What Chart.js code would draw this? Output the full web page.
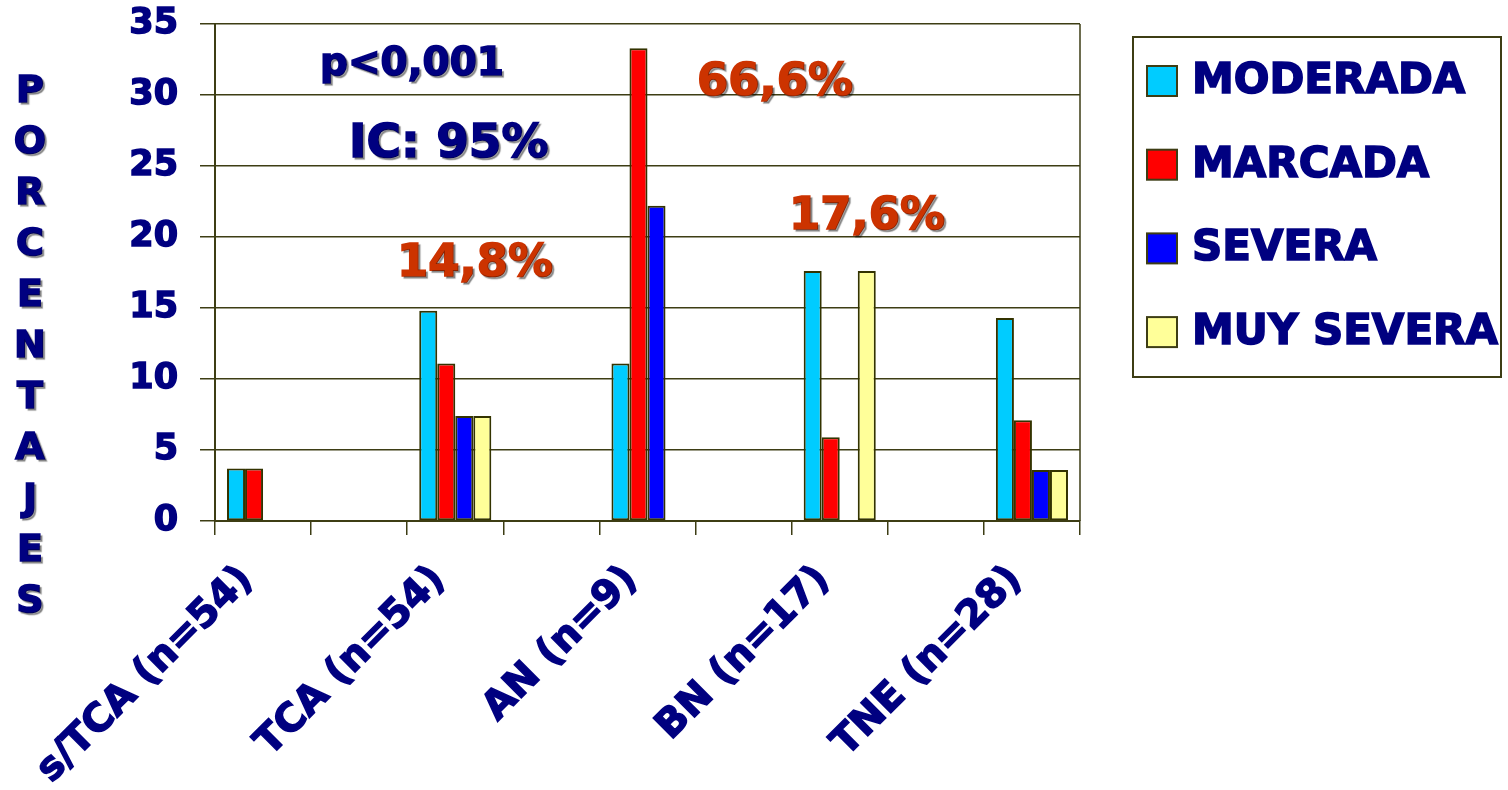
<!DOCTYPE html>
<html>
<head>
<meta charset="utf-8">
<script src="https://cdn.jsdelivr.net/npm/chart.js@4.4.0/dist/chart.umd.min.js"></script>
<style>
html, body { margin: 0; padding: 0; background: #fff; }
#wrap { width: 1508px; height: 790px; }
</style>
</head>
<body>
<div id="wrap"><canvas id="bar-chart"></canvas></div>
<script>
// blank slots between groups, like the original sheet
const categories = ['s/TCA (n=54)', '', 'TCA (n=54)', '', 'AN (n=9)', '', 'BN (n=17)', '', 'TNE (n=28)'];
const moderada  = [3.7, null, 14.8, null, 11.1, null, 17.6, null, 14.3];
const marcada   = [3.7, null, 11.1, null, 33.3, null, 5.9, null, 7.1];
const severa    = [0, null, 7.4, null, 22.2, null, 0, null, 3.6];
const muySevera = [0, null, 7.4, null, 0, null, 17.6, null, 3.6];
const axisTitle = 'PORCENTAJES';

const NAVY = '#000080';
const LINE = '#3d3d14';
const FONT = '"DejaVu Sans", Verdana, sans-serif';

const notes = [
    { text: 'p<0,001', x: 320, y: 75, size: 39, color: NAVY },
    { text: 'IC: 95%', x: 349, y: 157, size: 47, color: NAVY },
    { text: '14,8%', x: 397, y: 276, size: 45, color: '#CC3300' },
    { text: '66,6%', x: 697, y: 95, size: 45, color: '#CC3300' },
    { text: '17,6%', x: 789, y: 229, size: 45, color: '#CC3300' }
];

function shadow(ctx) {
    ctx.shadowColor = 'rgba(0,0,0,0.35)';
    ctx.shadowOffsetX = 2;
    ctx.shadowOffsetY = 2;
    ctx.shadowBlur = 1;
}

// fill plus a thin stroke, to get the heavy look of the original font
function boldText(ctx, txt, x, y, w) {
    ctx.lineWidth = w;
    ctx.strokeStyle = ctx.fillStyle;
    ctx.strokeText(txt, x, y);
    ctx.fillText(txt, x, y);
}

const extras = {
    id: 'extras',
    afterDraw(chart) {
        const ctx = chart.ctx;
        const a = chart.chartArea;
        ctx.save();
        // right border of the plot frame
        ctx.strokeStyle = LINE;
        ctx.lineWidth = 1.5;
        ctx.beginPath();
        ctx.moveTo(a.right, a.top);
        ctx.lineTo(a.right, a.bottom);
        ctx.stroke();

        // vertical axis title, one letter per line
        shadow(ctx);
        ctx.fillStyle = NAVY;
        ctx.font = 'bold 38px ' + FONT;
        ctx.textAlign = 'center';
        ctx.textBaseline = 'middle';
        axisTitle.split('').forEach((ch, i) => {
            boldText(ctx, ch, 30, 92 + i * 51, 1.6);
        });

        // text notes
        ctx.textAlign = 'left';
        ctx.textBaseline = 'alphabetic';
        notes.forEach(n => {
            ctx.fillStyle = n.color;
            ctx.font = 'bold ' + n.size + 'px ' + FONT;
            boldText(ctx, n.text, n.x, n.y, 1.6);
        });

        // legend box
        ctx.shadowColor = 'transparent';
        ctx.strokeStyle = LINE;
        ctx.lineWidth = 2;
        ctx.strokeRect(1133, 37, 368, 340);
        ctx.font = 'bold 42px ' + FONT;
        ctx.textBaseline = 'middle';
        chart.data.datasets.forEach((ds, i) => {
            const cy = 81 + i * 83.7;
            ctx.fillStyle = ds.backgroundColor;
            ctx.fillRect(1147, cy - 15, 30, 30);
            ctx.strokeStyle = LINE;
            ctx.lineWidth = 2;
            ctx.strokeRect(1147, cy - 15, 30, 30);
            ctx.fillStyle = NAVY;
            boldText(ctx, ds.label, 1192, cy + 1, 1.6);
        });
        ctx.restore();
    }
};

function series(label, data, color) {
    return {
        label: label,
        data: data,
        backgroundColor: color,
        borderColor: '#333300',
        borderWidth: 2,
        borderSkipped: false
    };
}

new Chart(document.getElementById('bar-chart'), {
    type: 'bar',
    data: {
        labels: categories,
        datasets: [
            series('MODERADA', moderada, '#00CCFF'),
            series('MARCADA', marcada, '#FF0000'),
            series('SEVERA', severa, '#0000FF'),
            series('MUY SEVERA', muySevera, '#FFFF99')
        ]
    },
    options: {
        responsive: true,
        maintainAspectRatio: false,
        animation: false,
        devicePixelRatio: 1,
        layout: { padding: { top: 24, right: 428, left: 0, bottom: 0 } },
        datasets: { bar: { categoryPercentage: 0.75, barPercentage: 1 } },
        plugins: {
            legend: { display: false },
            title: { display: false },
            tooltip: { enabled: false }
        },
        scales: {
            x: {
                grid: { drawOnChartArea: false, color: LINE, lineWidth: 1.5, tickLength: 14 },
                border: { color: LINE, width: 2 },
                ticks: {
                    autoSkip: false,
                    minRotation: 45,
                    maxRotation: 45,
                    padding: 22,
                    labelOffset: -16,
                    color: NAVY,
                    textStrokeColor: NAVY,
                    textStrokeWidth: 1.5,
                    font: { family: FONT, size: 39, weight: 'bold' }
                },
                afterFit(scale) {
                    scale.height = 269;
                    scale.paddingLeft = 0;
                    scale.paddingRight = 0;
                }
            },
            y: {
                min: 0,
                max: 35,
                grid: { color: LINE, lineWidth: 1.5, tickLength: 15 },
                border: { color: LINE, width: 2 },
                ticks: {
                    stepSize: 5,
                    padding: 22,
                    color: NAVY,
                    textStrokeColor: NAVY,
                    textStrokeWidth: 1.5,
                    font: { family: FONT, size: 35, weight: 'bold' }
                },
                afterFit(scale) {
                    scale.width = 215;
                    scale.paddingTop = 0;
                    scale.paddingBottom = 0;
                }
            }
        }
    },
    plugins: [extras]
});
</script>
</body>
</html>
